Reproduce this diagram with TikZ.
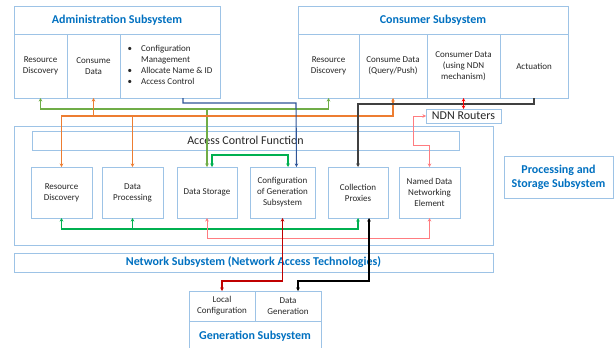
\documentclass[tikz,border=0pt]{standalone}
\usepackage{fontspec}
\setmainfont{Carlito}
\usetikzlibrary{arrows.meta}
\definecolor{bxblue}{RGB}{157,195,230}
\definecolor{ttblue}{RGB}{0,112,192}
\definecolor{lgreen}{RGB}{112,173,71}
\definecolor{orng}{RGB}{237,125,49}
\definecolor{dblue}{RGB}{47,85,151}
\definecolor{dgreen}{RGB}{0,176,80}
\definecolor{lred}{RGB}{255,124,128}
\definecolor{dred}{RGB}{192,0,0}
\definecolor{dgray}{RGB}{64,64,64}
\tikzset{
  sz/.style 2 args={minimum width=#1pt, minimum height=#2pt},
  bx/.style={draw=bxblue, line width=0.9pt, anchor=north west, inner sep=0pt, outer sep=0pt,
    align=center, text=black!85, font=\fontsize{9}{11}\selectfont},
  ttl/.style={bx, text=ttblue, font=\fontsize{12}{14}\selectfont\bfseries},
  cn/.style={line width=1.1pt, >={Stealth[length=3.5pt,width=3.5pt]}},
}
\begin{document}
\begin{tikzpicture}[x=1pt,y=-1pt]
    \useasboundingbox (0,0) rectangle (615,348);
    \node[ttl, sz={206}{28}] (adm) at (14,6) {Administration Subsystem};
    \node[bx, sz={53}{64}] (ard) at (14,34) {Resource\\Discovery};
    \node[bx, sz={53}{64}] (acd) at (67,34) {Consume\\Data};
    \node[bx, sz={100}{64}] (acf) at (120,34) {\begin{tabular}{@{}l@{\hspace{9pt}}l@{}}\textbullet & Configuration\\ & Management\\ \textbullet & Allocate Name \& ID\\ \textbullet & Access Control\end{tabular}};
    \node[ttl, sz={270}{28}] (con) at (298,6) {Consumer Subsystem};
    \node[bx, sz={61}{64}] (crd) at (298,34) {Resource\\Discovery};
    \node[bx, sz={68}{64}] (ccd) at (359,34) {Consume Data\\(Query/Push)};
    \node[bx, sz={73}{64}] (cndn) at (427,34) {Consumer Data\\(using NDN\\mechanism)};
    \node[bx, sz={68}{64}] (cact) at (500,34) {Actuation};
    \node[bx, sz={75}{14}, font=\fontsize{12}{13}\selectfont] (ndn) at (426,109) {NDN Routers};
    \node[bx, sz={479}{119}] (pss) at (14,126) {};
    \node[bx, sz={427}{19}, font=\fontsize{12}{13}\selectfont] (acfn) at (32,131) {Access Control Function};
    \node[bx, sz={61}{51}] (prd) at (31,167) {Resource\\Discovery};
    \node[bx, sz={61}{51}] (pdp) at (102,167) {Data\\Processing};
    \node[bx, sz={60}{51}] (pds) at (177,167) {Data Storage};
    \node[bx, sz={65}{51}] (pcg) at (250,167) {Configuration\\of Generation\\Subsystem};
    \node[bx, sz={60}{51}] (pcp) at (328,167) {Collection\\Proxies};
    \node[bx, sz={61}{51}] (pnd) at (399,167) {Named Data\\Networking\\Element};
    \node[ttl, sz={479}{19}] (nsub) at (14,253) {Network Subsystem (Network Access Technologies)};
    \node[ttl, sz={109}{42}] (plab) at (504,156) {Processing and\\Storage Subsystem};
    \node[bx, sz={66}{30}] (lconf) at (189,291) {Local\\Configuration};
    \node[bx, sz={66}{30}] (dgen) at (255,291) {Data\\Generation};
    \node[text=ttblue, font=\fontsize{12}{14}\selectfont\bfseries] (gen) at (255,336) {Generation Subsystem};
    \draw[draw=bxblue, line width=0.9pt] (lconf.south west) -- ++(0,27);
    \draw[draw=bxblue, line width=0.9pt] (dgen.south east) -- ++(0,27);
    \draw[cn, lgreen, <->] (ard.south) |- (pds.north |- 0,109) -| (crd.south);
    \draw[cn, lgreen, ->] (pds.north |- 0,109) -- (pds.north);
    \draw[cn, orng, <->] (acd.south) |- (ccd.south |- 0,116) -- (ccd.south);
    \draw[cn, orng, ->] (acd.south |- 0,116) -| (prd.north);
    \draw[cn, orng, ->] (pdp.north |- 0,116) -- (pdp.north);
    \draw[cn, dblue, ->] ([xshift=13pt]acf.south) |- ++(113,5) -- ([xshift=14pt]pcg.north);
    \draw[cn, dgray, ->] (cact.south) -- ++(0,6) -| (pcp.north);
    \draw[cn, red, <->] (cndn.south) -- (ndn.north);
    \draw[cn, lred, line width=0.8pt, <->] (pnd.north) -- ++(0,-22) -- ++(-16,0) |- (ndn.west);
    \draw[cn, dgreen, <->] ([xshift=5pt]pds.north) -- ++(0,-12) -| ([xshift=5.5pt]pcg.north);
    \draw[cn, dgreen, <->] (prd.south) -- ++(0,11) -| (pcp.south);
    \draw[cn, dgreen, ->] (pdp.south |- 0,229) -- (pdp.south);
    \draw[cn, lred, line width=0.8pt, <->] (pds.south) -- ++(0,20) -| (pnd.south);
    \draw[cn, dred, line width=1.4pt, <->] (pcg.south) -- ++(0,63) -| (lconf.north);
    \draw[cn, black, line width=1.4pt, <->] ([xshift=11pt]pcp.south) -- ++(0,63) -| ([xshift=10pt]dgen.north);
\end{tikzpicture}
\end{document}
